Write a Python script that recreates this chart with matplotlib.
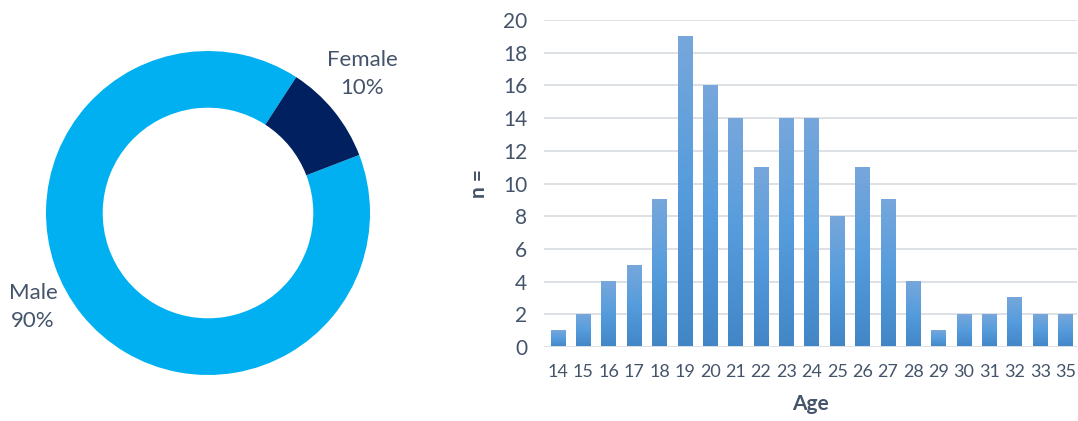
import numpy as np
import matplotlib
matplotlib.use("Agg")
import matplotlib.pyplot as plt
from matplotlib.colors import LinearSegmentedColormap

# --- data ---
sex_labels = ["Male", "Female"]
sex_share = [90, 10]

ages = ["14", "15", "16", "17", "18", "19", "20", "21", "22", "23", "24",
        "25", "26", "27", "28", "29", "30", "31", "32", "33", "35"]
counts = [1, 2, 4, 5, 9, 19, 16, 14, 11, 14, 14, 8, 11, 9, 4, 1, 2, 2, 3, 2, 2]

plt.rcParams["font.family"] = ["Lato", "DejaVu Sans"]
text_col = "#44546A"

W, H = 1078, 421
fig = plt.figure(figsize=(W / 100, H / 100), dpi=100)

# --- donut ---
cx, cy, r = 208, 208, 162
half = 200
ax_pie = fig.add_axes([(cx - half) / W, (cy - half) / H, 2 * half / W, 2 * half / H])
ax_pie.pie(sex_share, colors=["#00B0F0", "#002060"], startangle=21,
           counterclock=False, radius=1.0, wedgeprops=dict(width=0.35))
lim = half / r
ax_pie.set_xlim(-lim, lim)
ax_pie.set_ylim(-lim, lim)
ax_pie.axis("off")

fig.text(362 / W, 1 - 74 / H, f"{sex_labels[1]}\n{sex_share[1]}%", ha="center",
         va="center", fontsize=16, color=text_col, linespacing=1.45)
fig.text(33 / W, 1 - 307 / H, f"{sex_labels[0]}\n{sex_share[0]}%", ha="center",
         va="center", fontsize=16, color=text_col, linespacing=1.45)

# --- age histogram ---
left, right, top, bottom = 544, 1077, 20, 347
ax = fig.add_axes([left / W, 1 - bottom / H, (right - left) / W, (bottom - top) / H])
x = np.arange(len(counts))
bars = ax.bar(x, counts, width=0.58, color="none", zorder=3)

grad = LinearSegmentedColormap.from_list(
    "bar_grad", ["#4286C6", "#559CDD", "#77A7DB"])
gimg = np.linspace(0, 1, 256).reshape(-1, 1)
for b in bars:
    x0, y0 = b.get_x(), b.get_y()
    ax.imshow(gimg, cmap=grad, origin="lower", aspect="auto", zorder=3,
              extent=(x0, x0 + b.get_width(), y0, y0 + b.get_height()))

ax.set_xlim(-0.55, len(counts) - 0.55)
ax.set_ylim(0, 20)
ax.set_yticks(range(0, 21, 2))
ax.set_xticks(x)
ax.set_xticklabels(ages)
ax.grid(axis="y", color="#DDE1E6", linewidth=1.4, zorder=0)
ax.set_axisbelow(True)
for s in ["top", "right", "left", "bottom"]:
    ax.spines[s].set_visible(False)
ax.axhline(0, color="#DDE1E6", linewidth=1.4, zorder=4)
ax.tick_params(axis="both", length=0, colors=text_col)
ax.tick_params(axis="y", labelsize=15, pad=12)
ax.tick_params(axis="x", labelsize=13, pad=12)
ax.set_ylabel("n =", fontsize=15, fontweight="bold", color=text_col, labelpad=10)
ax.set_xlabel("Age", fontsize=15, fontweight="bold", color=text_col, labelpad=10)

fig.savefig("out.png", dpi=100)
